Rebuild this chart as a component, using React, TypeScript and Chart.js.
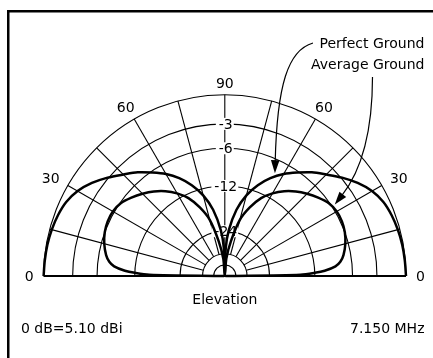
import React, { useEffect, useRef } from "react";
import { Chart, registerables } from "chart.js";

Chart.register(...registerables);

// ---- Data (elevation angle in degrees, relative gain in dB) ----
const perfectElevations = [0, 5, 10, 15, 20, 25, 30, 35, 40, 45, 50, 55, 60, 65, 70, 75, 80, 85, 88, 90];
const perfectGroundDb = [0, -0.05, -0.1, -0.2, -0.35, -0.6, -1.1, -1.9, -2.9, -4.0, -5.0, -6.2, -7.4, -8.9, -10.8, -13.3, -17.0, -23.5, -32, -99];

const averageElevations = [0, 1, 2, 3, 5, 7, 10, 15, 20, 25, 30, 35, 40, 45, 50, 55, 60, 65, 70, 75, 80, 85, 90];
const averageGroundDb = [-99, -15, -12, -10.2, -8.4, -7.6, -7.0, -6.4, -6.0, -5.8, -5.8, -6.1, -6.8, -7.6, -8.5, -9.6, -11.0, -12.8, -15.6, -19.5, -28, -40, -99];

const ringDb = [0, -3, -6, -12, -24, -36, -48];
const ringLabelDb = [-3, -6, -12, -24];
const spokeAngles = [0, 15, 30, 45, 60, 75, 90, 105, 120, 135, 150, 165, 180];
const angleLabelPhi = [180, 150, 120, 90, 60, 30, 0];
const angleLabelText = ["0", "30", "60", "90", "60", "30", "0"];

const seriesNames = ["Perfect Ground", "Average Ground"];
const arrowTargetElevation = [64, 33];
const arrowTargetDb = [-7.9, -5.55];
const referenceNote = "0 dB=5.10 dBi";
const frequencyNote = "7.150 MHz";
const axisTitle = "Elevation";

// ARRL log-periodic radial scale: radius shrinks by 0.89 for every 2 dB
const radius = (db: number) => Math.pow(0.89, -db / 2);
const toXY = (phiDeg: number, db: number) => {
  const a = (phiDeg * Math.PI) / 180;
  const r = radius(db);
  return { x: r * Math.cos(a), y: r * Math.sin(a) };
};

const buildPattern = (elev: number[], db: number[]) => {
  const left = elev.map((e, i) => toXY(180 - e, db[i]));
  const right: { x: number; y: number }[] = [];
  for (let i = elev.length - 2; i >= 0; i--) right.push(toXY(elev[i], db[i]));
  return left.concat(right);
};

const W = 433;
const H = 358;
const CX = 224.8;
const CY = 276;
const R = 181.2;
const FONT = '14px "DejaVu Sans"';

const gridPlugin = {
  id: "polarGrid",
  beforeDatasetsDraw(chart: any) {
    const { ctx, scales } = chart;
    const sx = scales.x;
    const sy = scales.y;
    const px = (p: { x: number; y: number }) => [sx.getPixelForValue(p.x), sy.getPixelForValue(p.y)];
    const cx = sx.getPixelForValue(0);
    const cy = sy.getPixelForValue(0);
    const unit = sx.getPixelForValue(1) - cx;
    ctx.save();
    ctx.strokeStyle = "#000";
    ctx.lineWidth = 1.1;
    ringDb.forEach((db) => {
      ctx.beginPath();
      ctx.arc(cx, cy, radius(db) * unit, Math.PI, 2 * Math.PI);
      ctx.stroke();
    });
    const innerDb = -36;
    spokeAngles.forEach((a) => {
      const [x0, y0] = a === 90 ? [cx, cy] : px(toXY(a, innerDb));
      const [x1, y1] = px(toXY(a, 0));
      ctx.beginPath();
      ctx.moveTo(x0, y0);
      ctx.lineTo(x1, y1);
      ctx.stroke();
    });
    // baseline
    ctx.lineWidth = 2;
    const [lx, ly] = px(toXY(180, 0));
    const [rx, ry] = px(toXY(0, 0));
    ctx.beginPath();
    ctx.moveTo(lx, ly);
    ctx.lineTo(rx, ry);
    ctx.stroke();

    // ring labels
    ctx.font = FONT;
    ctx.textAlign = "center";
    ctx.textBaseline = "middle";
    ringLabelDb.forEach((db) => {
      const [x, y] = px(toXY(90, db));
      const t = String(db);
      const w = ctx.measureText(t).width;
      ctx.fillStyle = "#fff";
      ctx.fillRect(x - w / 2 - 2, y - 6, w + 4, 12);
      ctx.fillStyle = "#000";
      ctx.fillText(t, x + 1, y + 1);
    });

    // angle labels
    angleLabelPhi.forEach((phi, i) => {
      const t = angleLabelText[i];
      const w = ctx.measureText(t).width;
      const a = (phi * Math.PI) / 180;
      const d = 6 + (w / 2 + 4) * Math.abs(Math.cos(a)) + 5.2 * Math.abs(Math.sin(a));
      const x = cx + (unit + d) * Math.cos(a);
      const y = cy - (unit + d) * Math.sin(a) + 3.5 * Math.abs(Math.sin(2 * a));
      ctx.fillText(t, x, y + 1);
    });
    ctx.restore();
  },
  afterDraw(chart: any) {
    const { ctx, scales } = chart;
    const sx = scales.x;
    const sy = scales.y;
    const cx = sx.getPixelForValue(0);
    const cy = sy.getPixelForValue(0);
    ctx.save();
    ctx.fillStyle = "#000";
    ctx.strokeStyle = "#000";
    ctx.font = FONT;
    ctx.textBaseline = "alphabetic";

    // titles
    ctx.textAlign = "center";
    ctx.fillText(axisTitle, cx, cy + 28);
    ctx.textAlign = "left";
    ctx.fillText(referenceNote, 21, 333);
    ctx.textAlign = "right";
    ctx.fillText(frequencyNote, 424.5, 333);
    ctx.fillText(seriesNames[0], 424.5, 47.5);
    ctx.fillText(seriesNames[1], 424.5, 68.5);

    // arrows
    const tips = arrowTargetElevation.map((e, i) => {
      const p = toXY(e, arrowTargetDb[i]);
      return [sx.getPixelForValue(p.x), sy.getPixelForValue(p.y)];
    });
    const paths = [
      [[313, 43], [288, 50], [277, 85]],
      [[372.5, 77], [372.5, 130], [362, 170]],
    ];
    ctx.lineWidth = 1.2;
    paths.forEach((p, i) => {
      const [tx, ty] = tips[i];
      const [c2x, c2y] = p[2];
      let dx = tx - c2x;
      let dy = ty - c2y;
      const len = Math.hypot(dx, dy);
      dx /= len;
      dy /= len;
      const L = 13;
      const hw = 4.3;
      const ex = tx - dx * L;
      const ey = ty - dy * L;
      ctx.beginPath();
      ctx.moveTo(p[0][0], p[0][1]);
      ctx.bezierCurveTo(p[1][0], p[1][1], c2x, c2y, ex + dx * 2, ey + dy * 2);
      ctx.stroke();
      ctx.beginPath();
      ctx.moveTo(tx, ty);
      ctx.lineTo(ex - dy * hw, ey + dx * hw);
      ctx.lineTo(ex + dy * hw, ey - dx * hw);
      ctx.closePath();
      ctx.fill();
    });

    // frame
    ctx.lineWidth = 2.5;
    ctx.strokeRect(8.25, 11.25, 600, 600);
    ctx.restore();
  },
};

export default function App() {
  const ref = useRef<HTMLCanvasElement>(null);
  useEffect(() => {
    if (!ref.current) return;
    const chart = new Chart(ref.current, {
      type: "scatter",
      data: {
        datasets: [
          {
            label: seriesNames[0],
            data: buildPattern(perfectElevations, perfectGroundDb),
            showLine: true,
            borderColor: "#000",
            borderWidth: 2.5,
            pointRadius: 0,
            tension: 0.3,
            fill: false,
          },
          {
            label: seriesNames[1],
            data: buildPattern(averageElevations, averageGroundDb),
            showLine: true,
            borderColor: "#000",
            borderWidth: 2.5,
            pointRadius: 0,
            tension: 0.3,
            fill: false,
          },
        ],
      },
      options: {
        responsive: false,
        animation: false,
        devicePixelRatio: 1,
        events: [],
        layout: { padding: 0 },
        plugins: { legend: { display: false }, tooltip: { enabled: false } },
        scales: {
          x: { type: "linear", display: false, min: -CX / R, max: (W - CX) / R },
          y: { type: "linear", display: false, min: -(H - CY) / R, max: CY / R },
        },
      },
      plugins: [gridPlugin],
    });
    return () => chart.destroy();
  }, []);
  return (
    <div style={{ position: "absolute", left: 0, top: 0, width: W, height: H, background: "#fff" }}>
      <canvas ref={ref} width={W} height={H} style={{ display: "block" }} />
    </div>
  );
}
